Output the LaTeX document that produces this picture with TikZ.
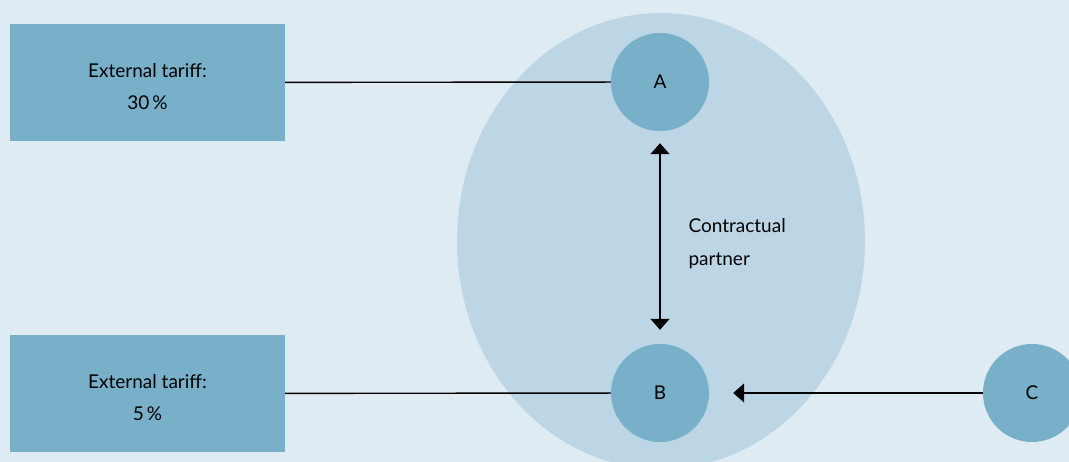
\documentclass[tikz,border=0pt]{standalone}
\usepackage{fontspec}
\setmainfont{Lato}
\usepackage{tikz}
\usetikzlibrary{positioning,arrows.meta}

\definecolor{bgblue}{HTML}{DFEBF3}
\definecolor{zoneblue}{HTML}{BDD6E5}
\definecolor{partyblue}{HTML}{78AFC9}

\begin{document}
\begin{tikzpicture}[x=1pt, y=-1pt,
  party/.style={circle, fill=partyblue, minimum size=98pt, inner sep=0pt, font=\fontsize{19}{22}\selectfont},
  tariffbox/.style={rectangle, fill=partyblue, minimum width=275pt, minimum height=117pt, align=center, font=\fontsize{19}{32}\selectfont},
  note/.style={align=left, font=\fontsize{19}{33}\selectfont},
  link/.style={line width=1.4pt},
  arr/.style={-{Triangle[width=19pt,length=11pt]}, line width=1.4pt}]
  \fill[bgblue] (0,0) rectangle (1069,462);
  \useasboundingbox (0,0) rectangle (1069,462);
  \clip (0,0) rectangle (1069,462);
  % free trade zone
  \fill[zoneblue] (661,241) ellipse [x radius=204, y radius=228];
  \node[party] (A) at (660,82) {A};
  \node[party] (B) at (660,393) {B};
  \node[party] (C) at (1032,393) {C};
  \node[tariffbox] (tA) at (147.5,82.5) {\rule{0pt}{22pt}External tariff:\\30\,\%};
  \node[tariffbox] (tB) at (147.5,393.5) {\rule{0pt}{22pt}External tariff:\\5\,\%};
  \node[note, anchor=west] (cp) at (685,244) {Contractual\\partner};
  \path[link]
  (tA) edge (A)
  (tB) edge (B);
  \draw[arr, {Triangle[width=19pt,length=11pt]}-{Triangle[width=19pt,length=11pt]}, shorten <=12pt, shorten >=14pt] (A) -- (B);
  \draw[arr, shorten >=24pt] (C) -- (B);
\end{tikzpicture}
\end{document}
